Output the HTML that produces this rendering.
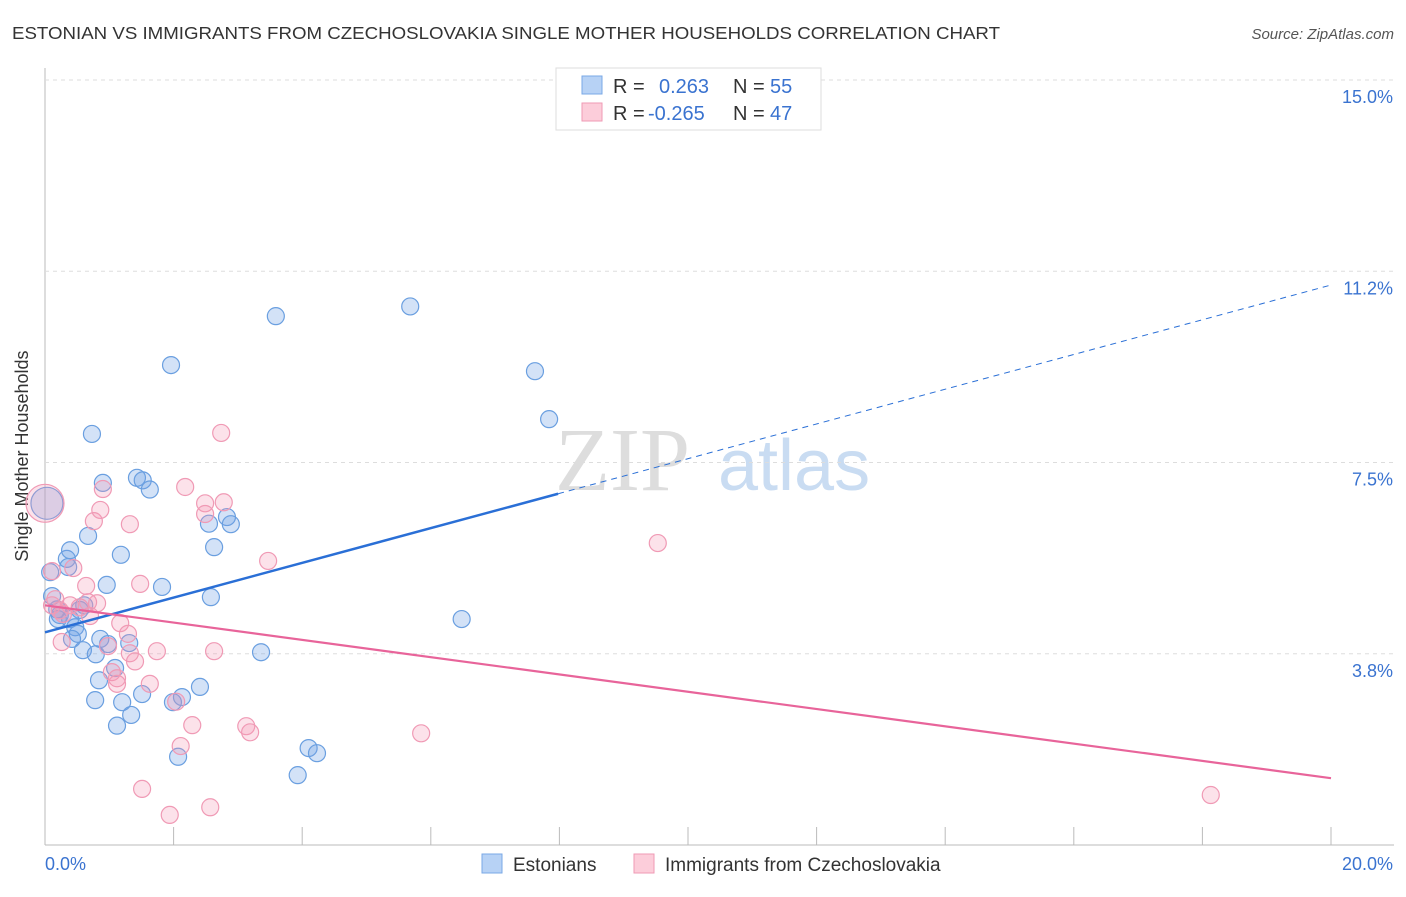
<!DOCTYPE html>
<html><head><meta charset="utf-8"><style>
body{margin:0;background:#fff;font-family:"Liberation Sans",sans-serif}
</style></head><body>
<svg id="c" width="1406" height="892" xmlns="http://www.w3.org/2000/svg">
<text x="12" y="39" font-size="17.5" fill="#333" textLength="988" lengthAdjust="spacingAndGlyphs">ESTONIAN VS IMMIGRANTS FROM CZECHOSLOVAKIA SINGLE MOTHER HOUSEHOLDS CORRELATION CHART</text>
<text x="1394" y="39" font-size="15" fill="#555" font-style="italic" text-anchor="end">Source: ZipAtlas.com</text>
<text x="28" y="456" font-size="18" fill="#333" text-anchor="middle" transform="rotate(-90 28 456)">Single Mother Households</text>
<g><text x="555" y="490" font-family="Liberation Serif,serif" font-size="90" fill="#ddd">ZIP</text><text x="718" y="490" font-size="72" fill="#c9dcf2">atlas</text></g>
<g id="grid"></g><g id="pts"></g><g id="lines"></g>
<g>
<rect x="556" y="68" width="265" height="62" fill="#fff" stroke="#ddd"/>
<rect x="582" y="76" width="20" height="18" fill="#b7d2f5" stroke="#7aa8e6"/>
<text x="613" y="93" font-size="20" fill="#333">R =</text><text x="659" y="93" font-size="20" fill="#3a73d0">0.263</text>
<text x="733" y="93" font-size="20" fill="#333">N =</text><text x="770" y="93" font-size="20" fill="#3a73d0">55</text>
<rect x="582" y="103" width="20" height="18" fill="#fccdda" stroke="#ef9ab4"/>
<text x="613" y="120" font-size="20" fill="#333">R =</text><text x="648" y="120" font-size="20" fill="#3a73d0">-0.265</text>
<text x="733" y="120" font-size="20" fill="#333">N =</text><text x="770" y="120" font-size="20" fill="#3a73d0">47</text>
</g>
<g>
<rect x="482" y="854" width="20" height="19" fill="#b7d2f5" stroke="#7aa8e6"/>
<text x="513" y="871" font-size="19" fill="#333">Estonians</text>
<rect x="634" y="854" width="20" height="19" fill="#fccdda" stroke="#ef9ab4"/>
<text x="665" y="871" font-size="19" fill="#333">Immigrants from Czechoslovakia</text>
</g>
</svg>
<script>
const yTicks=[15,11.25,7.5,3.75];
const yTickLabels=["15.0%","11.2%","7.5%","3.8%"];
const xTickLabels=["0.0%","20.0%"];
const blueX=[0.03,0.08,0.11,0.2,0.34,0.39,0.36,0.23,0.47,0.51,0.42,0.59,0.67,0.73,0.79,0.86,0.9,0.96,0.98,0.84,0.78,1.09,1.12,1.18,1.2,1.31,1.34,1.43,1.52,1.63,1.51,1.82,1.96,1.99,2.07,2.13,2.41,2.55,2.63,2.58,2.83,2.89,3.36,3.59,3.93,4.1,4.23,5.68,6.48,7.62,7.84,0.61,0.54,0.39,0.19];
const blueY=[6.7,5.35,4.88,4.43,5.61,5.78,5.45,4.51,4.27,4.14,4.04,3.82,6.06,8.06,3.74,4.04,7.1,5.1,3.94,3.23,2.84,3.47,2.34,5.69,2.8,3.96,2.55,7.2,7.15,6.97,2.96,5.06,9.41,2.8,1.73,2.9,3.1,6.3,5.84,4.86,6.43,6.29,3.78,10.37,1.37,1.9,1.8,10.56,4.43,9.29,8.35,4.7,4.61,4.43,4.62];
const pinkX=[0.0,0.11,0.16,0.11,0.26,0.44,0.64,0.76,0.86,0.9,0.54,0.67,0.81,0.7,0.98,1.04,1.12,1.12,1.17,1.29,1.32,1.4,1.48,1.32,1.51,1.63,1.74,1.94,2.04,2.18,2.29,2.11,2.49,2.49,2.57,2.63,2.74,2.78,3.13,3.19,3.47,5.85,9.53,18.13,0.28,0.39,0.23];
const pinkY=[6.7,5.37,4.82,4.7,3.98,5.43,5.08,6.35,6.57,6.98,4.66,4.76,4.74,4.49,3.9,3.39,3.27,3.16,4.35,4.14,3.76,3.6,5.12,6.29,1.1,3.16,3.8,0.59,2.81,7.02,2.35,1.94,6.7,6.49,0.74,3.8,8.08,6.72,2.33,2.21,5.57,2.19,5.92,0.98,4.53,4.7,4.6];
const blueFit=[4.17,10.98], pinkFit=[4.70,1.31], blueSolidEnd=7.98;
const X=v=>45+v/20*1286, Y=v=>845-v*51.0;
const NS="http://www.w3.org/2000/svg";
function mk(t,a,p){const e=document.createElementNS(NS,t);for(const k in a)e.setAttribute(k,a[k]);p.appendChild(e);return e;}
const g=document.getElementById('grid');
const ax=mk('line',{x1:45,y1:68,x2:45,y2:845,stroke:'#bbb'},g);


yTicks.forEach((t,i)=>{
 const l=mk('line',{x1:45,y1:Y(t),x2:1394,y2:Y(t),stroke:'#ddd','stroke-dasharray':'4,4'},g);
 
 
 const tx=mk('text',{x:1393,y:Y(t)+23,'font-size':18,fill:'#3a73d0','text-anchor':'end'},g);tx.textContent=yTickLabels[i];
 
 
});
const bl=mk('line',{x1:45,y1:845,x2:1394,y2:845,stroke:'#bbb'},g);


for(let i=0;i<=10;i++){const tk=mk('line',{x1:X(i*2),y1:827,x2:X(i*2),y2:845,stroke:'#bbb'},g);
 
 }
[[0,45,'start'],[1,1393,'end']].forEach(([i,x,a])=>{const t=mk('text',{x:x,y:870,'font-size':18,fill:'#3a73d0','text-anchor':a},g);t.textContent=xTickLabels[i];
 
 });
const p=document.getElementById('pts');
blueX.forEach((x,i)=>{const c=mk('circle',{cx:X(x),cy:Y(blueY[i]),r:i==0?16:8.5,fill:'rgba(110,160,230,0.3)',stroke:'#6a9fe0','stroke-width':1.2},p);
 
 });
pinkX.forEach((x,i)=>{const c=mk('circle',{cx:X(x),cy:Y(pinkY[i]),r:i==0?19:8.5,fill:'rgba(245,150,180,0.28)',stroke:'#f09ab5','stroke-width':1.2},p);
 
 });
const L=document.getElementById('lines');
const bf=v=>blueFit[0]+(blueFit[1]-blueFit[0])*v/20, pf=v=>pinkFit[0]+(pinkFit[1]-pinkFit[0])*v/20;
const b1=mk('line',{x1:X(0),y1:Y(bf(0)),x2:X(blueSolidEnd),y2:Y(bf(blueSolidEnd)),stroke:'#2a6fd6','stroke-width':2.5},L);


const b2=mk('line',{x1:X(blueSolidEnd),y1:Y(bf(blueSolidEnd)),x2:X(20),y2:Y(bf(20)),stroke:'#2a6fd6','stroke-width':1,'stroke-dasharray':'6,5'},L);


const p1=mk('line',{x1:X(0),y1:Y(pf(0)),x2:X(20),y2:Y(pf(20)),stroke:'#e8649a','stroke-width':2.2},L);


</script>
</body></html>
